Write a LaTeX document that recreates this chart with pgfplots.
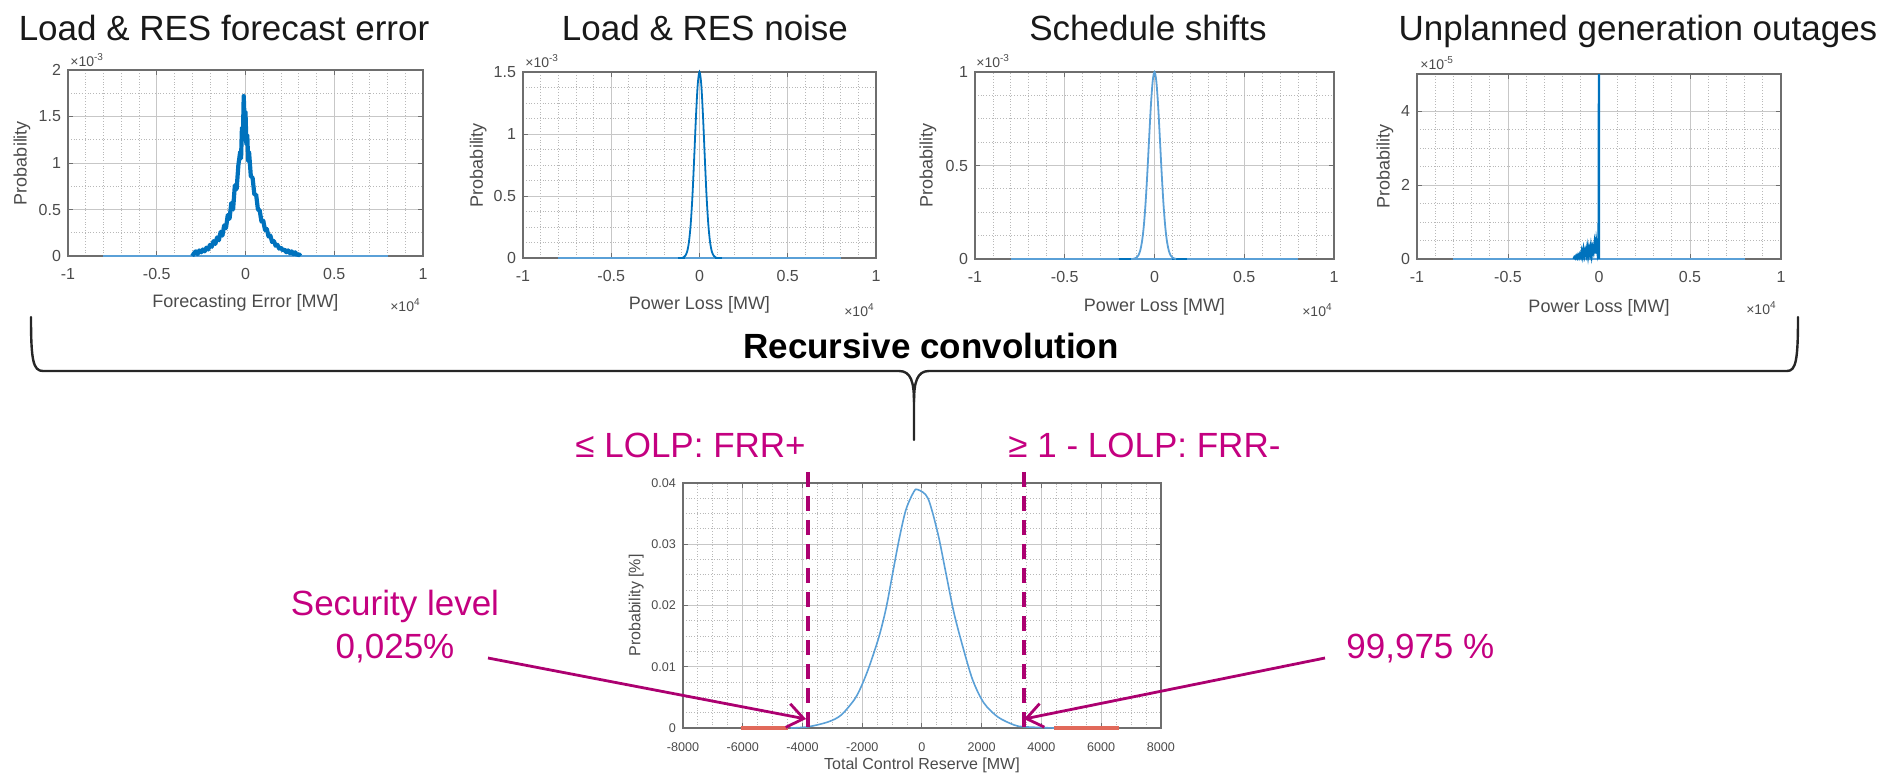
\documentclass[border=0pt]{standalone}
\usepackage{pgfplots}
\pgfplotsset{compat=1.18}
\usepackage{fontspec}
\setmainfont{Liberation Sans}
\usetikzlibrary{arrows.meta}
\definecolor{mblue}{RGB}{0,114,189}
\definecolor{lblue}{RGB}{90,160,215}
\definecolor{mred}{RGB}{225,105,90}
\definecolor{mag}{RGB}{196,0,128}
\definecolor{magd}{RGB}{172,0,112}
\definecolor{boxg}{RGB}{110,110,110}
\definecolor{labg}{RGB}{75,75,75}
\pgfplotsset{
 mat/.style={
  scale only axis, anchor=north west, clip=false,
  axis line style={draw=boxg, line width=0.6pt},
  grid=both,
  major grid style={draw=black!22, line width=0.5pt},
  minor grid style={draw=black!28, densely dotted, line width=0.45pt},
  tick style={draw=boxg, line width=0.5pt},
  major tick length=2.5pt, minor tick length=0pt,
  tick align=inside, xtick pos=both, ytick pos=both,
  xticklabel pos=lower, yticklabel pos=left,
  scaled ticks=false,
  /pgf/number format/assume math mode=true,
  ticklabel style={font=\fontsize{8}{9}\selectfont, text=labg},
  label style={font=\fontsize{9}{10}\selectfont, text=labg},
  xtick={-10000,-5000,0,5000,10000},
  xticklabels={-1,-0.5,0,0.5,1},
  minor x tick num=4,
  xmin=-10000, xmax=10000, ymin=0,
  xticklabel style={yshift=-2.5pt},
 }
}
\newcommand{\tfont}{\fontsize{17.5}{20}\selectfont}
\newcommand{\sfont}{\fontsize{7}{8}\selectfont}
\begin{document}
\begin{tikzpicture}
\begin{scope}[x=0.5pt,y=-0.5pt]
% ---------- titles ----------
\node[anchor=base, font=\tfont, text=black!90] at (224,40) {Load \& RES forecast error};
\node[anchor=base, font=\tfont, text=black!90] at (705,40) {Load \& RES noise};
\node[anchor=base, font=\tfont, text=black!90] at (1148,40) {Schedule shifts};
\node[anchor=base, font=\tfont, text=black!90] at (1638,40) {Unplanned generation outages};
\end{scope}

% ---------- plot 1 ----------
\begin{axis}[mat, at={(34pt,-35pt)}, width=177.5pt, height=93pt, ymax=2,
  ytick={0,0.5,1,1.5,2}, yticklabels={0,0.5,1,1.5,2}, minor y tick num=1,
  xlabel={Forecasting Error [MW]}, ylabel={Probability},
  xlabel style={at={(axis description cs:0.5,-0.253)}, anchor=center},
  ylabel style={at={(axis description cs:-0.13,0.5)}, anchor=center}]
\addplot[lblue, line width=0.8pt] coordinates {(-8000,0) (8000,0)};
\addplot[mblue, line width=2.1pt, line join=round] coordinates {
(-3000,0) (-2900,0.03) (-2800,0.05) (-2700,0.02) (-2600,0.06) (-2500,0.04)
(-2400,0.07) (-2300,0.05) (-2200,0.09) (-2100,0.07) (-2000,0.12) (-1900,0.10)
(-1800,0.16) (-1700,0.13) (-1600,0.20) (-1500,0.17) (-1400,0.26) (-1300,0.22)
(-1200,0.33) (-1100,0.30) (-1000,0.44) (-900,0.40) (-800,0.57) (-700,0.50)
(-600,0.76) (-500,0.72) (-400,0.98) (-300,1.12) (-250,1.05) (-200,1.38)
(-150,1.25) (-100,1.72) (-50,1.45) (0,1.55) (50,1.20) (100,1.30) (150,1.02)
(200,1.12) (300,0.86) (400,0.84) (500,0.66) (600,0.66) (700,0.50) (800,0.49)
(900,0.37) (1000,0.38) (1100,0.28) (1200,0.29) (1300,0.21) (1400,0.22)
(1500,0.15) (1600,0.16) (1700,0.11) (1800,0.12) (1900,0.08) (2000,0.09)
(2100,0.06) (2200,0.07) (2300,0.04) (2400,0.06) (2500,0.03) (2600,0.05)
(2700,0.02) (2800,0.04) (2900,0.01) (3000,0.02) (3100,0)};
\end{axis}

% ---------- plot 2 ----------
\begin{axis}[mat, at={(261.5pt,-36pt)}, width=176.5pt, height=93pt, ymax=1.5,
  ytick={0,0.5,1,1.5}, yticklabels={0,0.5,1,1.5}, minor y tick num=3,
  xlabel={Power Loss [MW]}, ylabel={Probability},
  xlabel style={at={(axis description cs:0.5,-0.253)}, anchor=center},
  ylabel style={at={(axis description cs:-0.127,0.5)}, anchor=center}]
\addplot[lblue, line width=0.8pt] coordinates {(-8000,0) (8000,0)};
\addplot[mblue, line width=1.1pt] coordinates {(-1200,0) (-800,0)};
\addplot[mblue, line width=1.1pt] coordinates {(850,0) (1300,0)};
\addplot[mblue, line width=0.9pt, smooth] coordinates {
(-1000,0) (-900,0.006) (-800,0.019) (-700,0.052) (-600,0.127) (-500,0.27)
(-400,0.50) (-300,0.81) (-200,1.14) (-100,1.40) (0,1.50) (100,1.40) (200,1.14)
(300,0.81) (400,0.50) (500,0.27) (600,0.127) (700,0.052) (800,0.019)
(900,0.006) (1000,0)};
\end{axis}

% ---------- plot 3 ----------
\begin{axis}[mat, at={(487.5pt,-36pt)}, width=179.5pt, height=93.5pt, ymax=1,
  ytick={0,0.5,1}, yticklabels={0,0.5,1}, minor y tick num=3,
  xlabel={Power Loss [MW]}, ylabel={Probability},
  xlabel style={at={(axis description cs:0.5,-0.257)}, anchor=center},
  ylabel style={at={(axis description cs:-0.131,0.5)}, anchor=center}]
\addplot[lblue, line width=0.8pt] coordinates {(-8000,0) (8000,0)};
\addplot[mblue, line width=1.3pt] coordinates {(-2000,0) (-1300,0)};
\addplot[mblue, line width=1.3pt] coordinates {(1000,0) (1800,0)};
\addplot[lblue, line width=0.9pt, smooth] coordinates {
(-1200,0) (-1100,0.003) (-1000,0.008) (-900,0.019) (-800,0.044) (-700,0.091)
(-600,0.172) (-500,0.295) (-400,0.458) (-300,0.644) (-200,0.823) (-100,0.952)
(0,1.0) (100,0.952) (200,0.823) (300,0.644) (400,0.458) (500,0.295)
(600,0.172) (700,0.091) (800,0.044) (900,0.019) (1000,0.008) (1100,0.003)
(1200,0)};
\end{axis}

% ---------- plot 4 ----------
\begin{axis}[mat, at={(708.5pt,-37pt)}, width=182pt, height=92.5pt, ymax=5,
  ytick={0,2,4}, yticklabels={0,2,4}, minor y tick num=3,
  xlabel={Power Loss [MW]}, ylabel={Probability},
  xlabel style={at={(axis description cs:0.5,-0.265)}, anchor=center},
  ylabel style={at={(axis description cs:-0.088,0.5)}, anchor=center}]
\addplot[lblue, line width=0.8pt] coordinates {(-8000,0) (8000,0)};
\addplot[mblue, line width=1.2pt] coordinates {
(-1400,0) (-1350,0.05) (-1300,0.02) (-1250,0.08) (-1200,0.03) (-1150,0.10)
(-1100,0.04) (-1050,0.12) (-1000,0.06) (-950,0.20) (-900,0.08) (-850,0.25)
(-800,0.10) (-750,0.22) (-700,0.12) (-650,0.30) (-600,0.10) (-550,0.28)
(-500,0.15) (-450,0.33) (-400,0.12) (-350,0.30) (-300,0.20) (-250,0.40)
(-200,0.15) (-150,0.45) (-100,0.25) (-50,0.55) (-20,0.30) (0,5) (0,0)};
\end{axis}

% ---------- bottom plot ----------
\begin{axis}[mat, at={(341.5pt,-241.5pt)}, width=239pt, height=122.5pt,
  xmin=-8000, xmax=8000, ymax=0.04,
  xtick={-8000,-6000,-4000,-2000,0,2000,4000,6000,8000},
  xticklabels={-8000,-6000,-4000,-2000,0,2000,4000,6000,8000},
  minor x tick num=3,
  ytick={0,0.01,0.02,0.03,0.04}, yticklabels={0,0.01,0.02,0.03,0.04},
  minor y tick num=3,
  ticklabel style={font=\fontsize{6.3}{7}\selectfont},
  label style={font=\fontsize{8}{9}\selectfont},
  xticklabel style={yshift=-1.5pt},
  xlabel={Total Control Reserve [MW]}, ylabel={Probability [\%]},
  xlabel style={at={(axis description cs:0.5,-0.151)}, anchor=center},
  ylabel style={at={(axis description cs:-0.098,0.5)}, anchor=center}]
\addplot[mred, line width=1.6pt] coordinates {(-6050,0) (-4480,0)};
\addplot[mred, line width=1.6pt] coordinates {(4420,0) (6590,0)};
\addplot[lblue, line width=0.8pt, smooth, tension=0.5] coordinates {
(-4400,0) (-3810,0.0002) (-3140,0.001) (-2710,0.0021) (-2270,0.0046)
(-2040,0.0067) (-1770,0.0100) (-1440,0.0149) (-1200,0.0196) (-980,0.0253)
(-770,0.0307) (-540,0.0356) (-270,0.0386) (-130,0.0389) (200,0.0375)
(530,0.0318) (800,0.0253) (1070,0.0188) (1370,0.0132) (1700,0.0078)
(2070,0.0041) (2540,0.0018) (3080,0.0005) (3410,0.0002) (4420,0)};
\draw[magd, line width=2.3pt, dash pattern=on 7.5pt off 4.5pt] (axis cs:-3810,0.0418) -- (axis cs:-3810,-0.0011);
\draw[magd, line width=2.3pt, dash pattern=on 7.5pt off 4.5pt] (axis cs:3410,0.0418) -- (axis cs:3410,-0.0011);
\end{axis}

\begin{scope}[x=0.5pt,y=-0.5pt]
% ---------- multiplier labels ----------
\node[anchor=south west, inner sep=0pt, font=\sfont, text=labg] at (70,67) {×10\textsuperscript{-3}};
\node[anchor=east, inner sep=0pt, font=\sfont, text=labg] at (421,305) {×10\textsuperscript{4}};
\node[anchor=south west, inner sep=0pt, font=\sfont, text=labg] at (525,68) {×10\textsuperscript{-3}};
\node[anchor=east, inner sep=0pt, font=\sfont, text=labg] at (875,310) {×10\textsuperscript{4}};
\node[anchor=south west, inner sep=0pt, font=\sfont, text=labg] at (976,68) {×10\textsuperscript{-3}};
\node[anchor=east, inner sep=0pt, font=\sfont, text=labg] at (1333,310) {×10\textsuperscript{4}};
\node[anchor=south west, inner sep=0pt, font=\sfont, text=labg] at (1420,70) {×10\textsuperscript{-5}};
\node[anchor=east, inner sep=0pt, font=\sfont, text=labg] at (1777,308) {×10\textsuperscript{4}};

% ---------- brace ----------
\draw[line width=1.2pt, black!85, line cap=round, line join=round]
 (31,317) .. controls (31,360) and (33,371) .. (43,371) -- (899,371)
 .. controls (911,371) and (914,382) .. (914,402) -- (914,440);
\draw[line width=1.2pt, black!85, line cap=round, line join=round]
 (914,402) .. controls (914,382) and (917,371) .. (929,371) -- (1787,371)
 .. controls (1796,371) and (1798,360) .. (1798,317);
\node[anchor=base, font=\bfseries\tfont] at (931,358) {Recursive convolution};

% ---------- annotations ----------
\node[anchor=base west, font=\tfont, text=mag, inner sep=0pt] at (575,457) {≤ LOLP: FRR+};
\node[anchor=base west, font=\tfont, text=mag, inner sep=0pt] at (1008,457) {≥ 1 - LOLP: FRR-};
\node[anchor=base, font=\tfont, text=mag, inner sep=0pt] at (395,615) {Security level};
\node[anchor=base, font=\tfont, text=mag, inner sep=0pt] at (395,658) {0,025\%};
\node[anchor=base west, font=\tfont, text=mag, inner sep=0pt] at (1346,658) {99,975 \%};
\draw[magd, line width=1.4pt, -{Straight Barb[length=8pt,width=12pt,line width=1.4pt]}] (488,658) -- (806,719);
\draw[magd, line width=1.4pt, -{Straight Barb[length=8pt,width=12pt,line width=1.4pt]}] (1325,658) -- (1024,719);
\end{scope}
\pgfresetboundingbox
\path[use as bounding box] (0pt,0pt) rectangle (948.5pt,-386pt);
\end{tikzpicture}
\end{document}
